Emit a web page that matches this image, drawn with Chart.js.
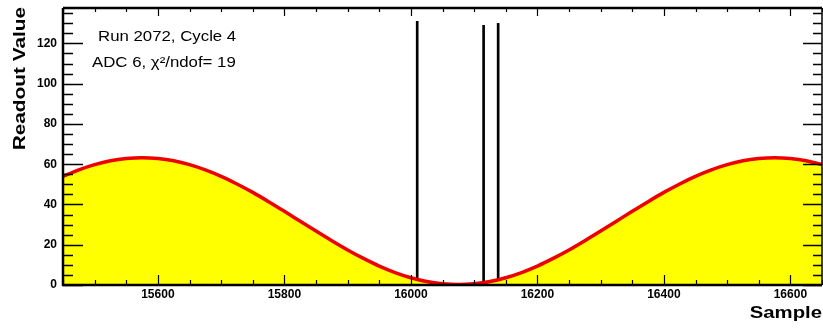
<!DOCTYPE html>
<html>
<head>
<meta charset="utf-8">
<script src="https://cdn.jsdelivr.net/npm/chart.js@4/dist/chart.umd.min.js"></script>
<style>
  html, body { margin:0; padding:0; background:#fff; }
  #wrap { width:823px; height:331px; }
</style>
</head>
<body>
<div id="wrap"><canvas id="grafica" width="823" height="331"></canvas></div>
<script>
//-------------datos------------------------------------//
const muestras = [15450,15475,15500,15525,15550,15575,15600,15625,15650,15675,15700,15725,15750,15775,15800,15825,15850,15875,15900,15925,15950,15975,16000,16025,16050,16075,16100,16125,16150,16175,16200,16225,16250,16275,16300,16325,16350,16375,16400,16425,16450,16475,16500,16525,16550,16575,16600,16625,16650];
const lecturas = [54.0,57.2,59.8,61.7,62.8,63.2,62.8,61.7,59.8,57.2,54.0,50.2,46.0,41.4,36.6,31.7,26.8,22.0,17.4,13.2,9.4,6.2,3.6,1.7,0.6,0.2,0.6,1.7,3.6,6.2,9.4,13.2,17.4,22.0,26.8,31.7,36.6,41.4,46.0,50.2,54.0,57.2,59.8,61.7,62.8,63.2,62.8,61.7,59.8];

// picos (muestra, base, altura)
const picosX = [16010, 16115, 16138];
const picosBase = [2.7, 1.2, 2.6];
const picosAlto = [131, 129, 130];

const ticksX = [15600, 15800, 16000, 16200, 16400, 16600];
const ticksY = [0, 20, 40, 60, 80, 100, 120];
const textos = ["Run 2072, Cycle 4", "ADC 6, \u03C7\u00B2/ndof= 19"];
//------------------------------------------------------//

const xMin = 15450, xMax = 16650, yMin = 0, yMax = 137.6;

const puntos = muestras.map((m, i) => ({x: m, y: lecturas[i]}));
const picos = picosX.map((p, i) => ({x: p, y: [picosBase[i], picosAlto[i]]}));

function textoEstirado(ctx, txt, x, y, fuente, sx, alin, rot){
	ctx.save();
	ctx.translate(x, y);
	if (rot) ctx.rotate(rot);
	ctx.scale(sx, 1);
	ctx.font = fuente;
	ctx.fillStyle = '#000';
	ctx.textAlign = alin;
	ctx.textBaseline = 'alphabetic';
	ctx.fillText(txt, 0, 0);
	ctx.restore();
}

// marco, ticks hacia dentro y textos estilo ROOT
const marcoRoot = {
	id: 'marcoRoot',
	afterDraw(chart){
		const ctx = chart.ctx;
		const a = chart.chartArea;
		const sx = chart.scales.x, sy = chart.scales.y;
		ctx.save();
		ctx.strokeStyle = '#000';

		// ticks eje x (abajo y arriba)
		ctx.lineWidth = 1.2;
		for (let v = xMin; v <= xMax; v += 50) {
			const px = Math.round(sx.getPixelForValue(v)) + 0.5;
			const mayor = ticksX.indexOf(v) >= 0;
			ctx.beginPath();
			ctx.moveTo(px, a.bottom); ctx.lineTo(px, a.bottom - (mayor ? 10 : 5));
			ctx.moveTo(px, a.top); ctx.lineTo(px, a.top + (mayor ? 8 : 4));
			ctx.stroke();
		}
		// ticks eje y (izquierda y derecha)
		ctx.lineWidth = 1.5;
		for (let v = 0; v <= yMax; v += 5) {
			const py = Math.round(sy.getPixelForValue(v)) + 0.5;
			const mayor = ticksY.indexOf(v) >= 0;
			ctx.beginPath();
			ctx.moveTo(a.left, py); ctx.lineTo(a.left + (mayor ? 20 : 10), py);
			ctx.moveTo(a.right, py); ctx.lineTo(a.right - (mayor ? 19 : 9), py);
			ctx.stroke();
		}

		// marco
		ctx.lineWidth = 2.5;
		ctx.beginPath();
		ctx.moveTo(a.left, a.top); ctx.lineTo(a.right, a.top);
		ctx.moveTo(a.left, a.top); ctx.lineTo(a.left, a.bottom + 1);
		ctx.moveTo(a.left - 1, a.bottom); ctx.lineTo(a.right, a.bottom);
		ctx.stroke();
		ctx.lineWidth = 1.5;
		ctx.beginPath();
		ctx.moveTo(a.right, a.top); ctx.lineTo(a.right, a.bottom);
		ctx.stroke();
		ctx.restore();

		// textos
		textoEstirado(ctx, textos[0], 98, 40.5, '14px "Liberation Sans", Arial, sans-serif', 1.2, 'left');
		textoEstirado(ctx, textos[1], 92, 66.5, '14px "Liberation Sans", Arial, sans-serif', 1.2, 'left');
		textoEstirado(ctx, 'Readout Value', 25, 7, 'bold 16px "Liberation Sans", Arial, sans-serif', 1.3, 'right', -Math.PI / 2);
		textoEstirado(ctx, 'Sample', 822, 318, 'bold 16px "Liberation Sans", Arial, sans-serif', 1.27, 'right');
	}
};

const fuenteTicks = {family: '"Liberation Sans", Arial, sans-serif', size: 12, weight: 'bold'};

new Chart(document.getElementById('grafica').getContext('2d'), {
	type: 'line',
	data: {
		datasets: [
			{
				label: 'relleno',
				data: puntos,
				borderWidth: 0,
				borderColor: 'rgba(0,0,0,0)',
				backgroundColor: '#ffff00',
				fill: 'origin',
				pointRadius: 0,
				cubicInterpolationMode: 'monotone',
				order: 3
			},
			{
				type: 'bar',
				label: 'picos',
				data: picos,
				backgroundColor: '#000',
				barThickness: 2,
				order: 2
			},
			{
				label: 'ajuste',
				data: puntos,
				borderWidth: 3.5,
				borderColor: '#ee0000',
				fill: false,
				pointRadius: 0,
				cubicInterpolationMode: 'monotone',
				order: 1
			}
		]
	},
	options: {
		responsive: false,
		animation: false,
		devicePixelRatio: 1,
		layout: { padding: { top: 8, right: 1, left: 0, bottom: 0 } },
		plugins: { legend: { display: false }, tooltip: { enabled: false } },
		scales: {
			x: {
				type: 'linear',
				min: xMin,
				max: xMax,
				offset: false,
				grid: { display: false, drawTicks: false },
				border: { display: false },
				ticks: { font: fuenteTicks, color: '#000', padding: 2, maxRotation: 0, autoSkip: false, includeBounds: false,
					callback: v => String(v) },
				afterBuildTicks(scale){ scale.ticks = ticksX.map(v => ({value: v})); },
				afterFit(scale){ scale.height = 46; scale.paddingLeft = 0; scale.paddingRight = 0; }
			},
			y: {
				min: yMin,
				max: yMax,
				grid: { display: false, drawTicks: false },
				border: { display: false },
				ticks: { font: fuenteTicks, color: '#000', padding: 6, includeBounds: false },
				afterBuildTicks(scale){ scale.ticks = ticksY.map(v => ({value: v})); },
				afterFit(scale){ scale.width = 63; scale.paddingTop = 0; scale.paddingBottom = 0; }
			}
		}
	},
	plugins: [marcoRoot]
});
</script>
</body>
</html>
